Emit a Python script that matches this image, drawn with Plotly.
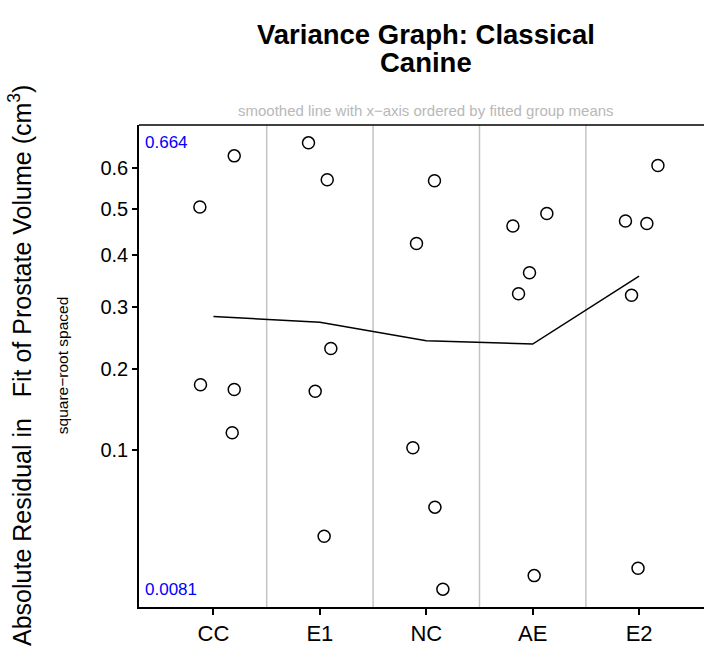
import numpy as np
import plotly.graph_objects as go

# Treatment groups, ordered by fitted group means
groups = ["CC", "E1", "NC", "AE", "E2"]

# Absolute residuals per group (cm^3)
resid_CC = [0.630, 0.505, 0.178, 0.1715, 0.1183]
resid_E1 = [0.664, 0.570, 0.2313, 0.1692, 0.0309]
resid_NC = [0.5676, 0.4244, 0.1022, 0.0498, 0.0081]
resid_AE = [0.490, 0.4623, 0.3647, 0.3248, 0.01254]
resid_E2 = [0.6055, 0.4734, 0.4676, 0.3218, 0.01536]

# Horizontal jitter of each residual around its group position
jitter_CC = [0.195, -0.128, -0.122, 0.195, 0.176]
jitter_E1 = [-0.107, 0.069, 0.103, -0.044, 0.040]
jitter_NC = [0.077, -0.092, -0.126, 0.081, 0.156]
jitter_AE = [0.133, -0.186, -0.030, -0.133, 0.014]
jitter_E2 = [0.177, -0.128, 0.073, -0.071, -0.010]

# Smoothed trend through the groups
smooth_fit = [0.2838, 0.2742, 0.2434, 0.2382, 0.3582]

y_ticks = [0.1, 0.2, 0.3, 0.4, 0.5, 0.6]

resids = [resid_CC, resid_E1, resid_NC, resid_AE, resid_E2]
jitters = [jitter_CC, jitter_E1, jitter_NC, jitter_AE, jitter_E2]

xs, ys = [], []
for i, (r, j) in enumerate(zip(resids, jitters)):
    for v, dj in zip(r, j):
        xs.append(i + 1 + dj)
        ys.append(np.sqrt(v))

all_vals = np.concatenate([np.array(r) for r in resids])
vmax, vmin = all_vals.max(), all_vals.min()
s_lo, s_hi = np.sqrt(vmin), np.sqrt(vmax)
pad = 0.04 * (s_hi - s_lo)

FONT = "Liberation Sans, Arial, Helvetica, sans-serif"

fig = go.Figure()

fig.add_trace(go.Scatter(
    x=list(range(1, len(groups) + 1)),
    y=np.sqrt(smooth_fit),
    mode="lines",
    line=dict(color="black", width=1.5),
    hoverinfo="skip",
    showlegend=False,
))

fig.add_trace(go.Scatter(
    x=xs, y=ys, mode="markers",
    marker=dict(symbol="circle-open", size=12, color="black",
                line=dict(width=1.5, color="black")),
    showlegend=False,
))

# grey separators between groups
for k in range(1, len(groups)):
    fig.add_shape(type="line", xref="x", yref="paper",
                  x0=k + 0.5, x1=k + 0.5, y0=0, y1=1,
                  line=dict(color="#c4c4c4", width=1.5), layer="below")

# top border of the panel
fig.add_shape(type="line", xref="paper", yref="paper",
              x0=0, x1=1, y0=1, y1=1, line=dict(color="black", width=1.5))

annotations = [
    dict(text="Variance Graph: Classical", x=0.508, y=1.187, xref="paper", yref="paper",
         showarrow=False, xanchor="center", yanchor="middle",
         font=dict(family=FONT, size=27.5, color="black", weight="bold")),
    dict(text="Canine", x=0.508, y=1.129, xref="paper", yref="paper",
         showarrow=False, xanchor="center", yanchor="middle",
         font=dict(family=FONT, size=27.5, color="black", weight="bold")),
    dict(text="smoothed line with x\u2212axis ordered by fitted group means",
         x=0.508, y=1.031, xref="paper", yref="paper", showarrow=False,
         xanchor="center", yanchor="middle",
         font=dict(family=FONT, size=15, color="#b8b8b8")),
    dict(text="Absolute Residual in\u00a0\u00a0\u00a0Fit of Prostate Volume (cm<sup>3</sup>)",
         x=-0.2106, y=0.5, xref="paper", yref="paper", showarrow=False,
         textangle=-90, xanchor="center", yanchor="middle",
         font=dict(family=FONT, size=25, color="black")),
    dict(text="square\u2212root spaced", x=-0.136, y=0.5, xref="paper", yref="paper",
         showarrow=False, textangle=-90, xanchor="center", yanchor="middle",
         font=dict(family=FONT, size=15.5, color="black")),
    dict(text=f"{vmax:.3g}", x=0.3, y=np.sqrt(vmax), xref="x", yref="y",
         xshift=4, showarrow=False, xanchor="left", yanchor="middle",
         font=dict(family=FONT, size=17, color="blue")),
    dict(text=f"{vmin:.2g}", x=0.3, y=np.sqrt(vmin), xref="x", yref="y",
         xshift=4, showarrow=False, xanchor="left", yanchor="middle",
         font=dict(family=FONT, size=17, color="blue")),
]

fig.update_layout(
    width=704, height=650,
    margin=dict(l=139, r=0, t=125, b=43),
    plot_bgcolor="white", paper_bgcolor="white",
    annotations=annotations,
    font=dict(family=FONT, color="black"),
    xaxis=dict(
        range=[0.3, 5.61],
        tickvals=list(range(1, len(groups) + 1)), ticktext=groups,
        showgrid=False, zeroline=False,
        showline=True, linecolor="black", linewidth=1.5,
        ticks="outside", ticklen=6, tickwidth=1.5, tickcolor="black",
        tickfont=dict(size=22, family=FONT, color="black"),
    ),
    yaxis=dict(
        range=[s_lo - pad, s_hi + pad],
        tickvals=np.sqrt(y_ticks), ticktext=[f"{t:g}" for t in y_ticks],
        showgrid=False, zeroline=False,
        showline=True, linecolor="black", linewidth=1.5,
        ticks="outside", ticklen=5, tickwidth=1.5, tickcolor="black",
        tickfont=dict(size=20, family=FONT, color="black"),
    ),
)

fig.write_html("out.html")
